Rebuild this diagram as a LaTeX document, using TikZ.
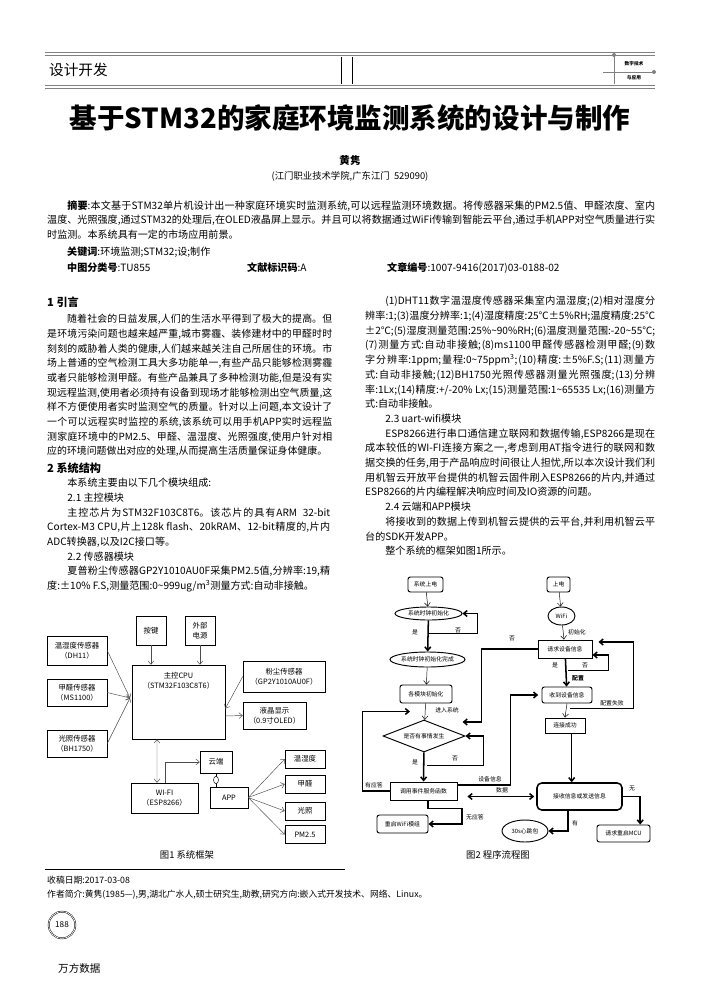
\documentclass[tikz,border=0pt]{standalone}
\usepackage{fontspec}
\setmainfont{Noto Sans CJK SC}
\usepackage{tikz}
\usetikzlibrary{arrows.meta,positioning,shapes.geometric,calc}
\XeTeXlinebreaklocale "zh"
\XeTeXlinebreakskip=0pt plus 1.5pt
\emergencystretch=1em

\newcommand{\bodyfont}{\fontsize{8.6}{12.55}\selectfont}
\newcommand{\figfont}{\fontsize{6.3}{8.5}\selectfont}
\newcommand{\flowfont}{\fontsize{5}{6}\selectfont}

\tikzset{
	wh/.style 2 args = {minimum width=#1*0.03cm, minimum height=#2*0.03cm, inner sep=0pt},
	blk/.style = {draw, thin, align=center, font=\figfont},
	fbox/.style = {draw, thick, align=center, font=\flowfont},
	rbox/.style = {fbox, rounded corners=2pt},
	oval/.style = {fbox, ellipse},
	lbl/.style = {font=\flowfont, inner sep=1pt},
	thk/.style = {line width=1.3pt},
	para/.style = {anchor=north west, align=justify, inner sep=0pt, font=\bodyfont}
}

\begin{document}
\begin{tikzpicture}[x=0.03cm, y=-0.03cm, >={Straight Barb[length=3pt,width=5pt]}]
	\useasboundingbox (0,0) rectangle (700,991);
	
	% header
	\draw[gray, line width=0.8pt] (45,52) -- (655,52);
	\draw[gray, line width=0.4pt] (45,55) -- (655,55);
	\draw[gray, line width=0.4pt] (45,85) -- (655,85);
	\draw[gray, line width=0.8pt] (45,88) -- (655,88);
	\draw (341,57) -- (341,84) (352,57) -- (352,84);
	\node[anchor=west, font=\fontsize{12.5}{14}\selectfont] (sec) at (45,70) {设计开发};
	\draw[gray] (614,55) -- (614,84) (603,72) -- (652,72);
	\fill[gray] (614,55) circle (2) (654,72) circle (2);
	\node[font=\fontsize{4}{5}\selectfont\bfseries, inner sep=0pt] (jn1) at (634,64) {数字技术};
	\node[font=\fontsize{4}{5}\selectfont\bfseries, inner sep=0pt] (jn2) at (634,78) {与应用};
	
	% title block
	\node[font=\fontsize{23.5}{26}\selectfont\bfseries] (title) at (350,118) {基于STM32的家庭环境监测系统的设计与制作};
	\node[font=\fontsize{9}{10}\selectfont\bfseries] (auth) at (350,161) {黄隽};
	\node[font=\fontsize{8}{10}\selectfont] (aff) at (350,176) {(江门职业技术学院,广东江门\ \ 529090)};
	\node[para, text width=18.24cm, font=\fontsize{8.6}{12.75}\selectfont] (abs) at (47,200)
		{\hspace*{2em}\textbf{摘要}:本文基于STM32单片机设计出一种家庭环境实时监测系统,可以远程监测环境数据。将传感器采集的PM2.5值、甲醛浓度、室内温度、光照强度,通过STM32的处理后,在OLED液晶屏上显示。并且可以将数据通过WiFi传输到智能云平台,通过手机APP对空气质量进行实时监测。本系统具有一定的市场应用前景。};
	\node[anchor=west, font=\fontsize{8.6}{10}\selectfont, inner sep=0pt] (kw) at (67,252) {\textbf{关键词}:环境监测;STM32;设;制作};
	\node[anchor=west, font=\fontsize{8.6}{10}\selectfont, inner sep=0pt] (clc) at (67,268) {\textbf{中图分类号}:TU855};
	\node[anchor=west, font=\fontsize{8.6}{10}\selectfont, inner sep=0pt] (doc) at (247,268) {\textbf{文献标识码}:A};
	\node[anchor=west, font=\fontsize{8.6}{10}\selectfont, inner sep=0pt] (art) at (387,268) {\textbf{文章编号}:1007-9416(2017)03-0188-02};
	
	% left column
	\node[anchor=west, font=\fontsize{9.5}{11}\selectfont\bfseries, inner sep=0pt] (h1) at (47,302) {1 引言};
	\node[para, text width=8.55cm, font=\fontsize{8.45}{12.55}\selectfont] (p1) at (47,314)
		{\hspace*{2em}随着社会的日益发展,人们的生活水平得到了极大的提高。但是环境污染问题也越来越严重,城市雾霾、装修建材中的甲醛时时刻刻的威胁着人类的健康,人们越来越关注自己所居住的环境。市场上普通的空气检测工具大多功能单一,有些产品只能够检测雾霾或者只能够检测甲醛。有些产品兼具了多种检测功能,但是没有实现远程监测,使用者必须持有设备到现场才能够检测出空气质量,这样不方便使用者实时监测空气的质量。针对以上问题,本文设计了一个可以远程实时监控的系统,该系统可以用手机APP实时远程监测家庭环境中的PM2.5、甲醛、温湿度、光照强度,使用户针对相应的环境问题做出对应的处理,从而提高生活质量保证身体健康。};
	\node[anchor=west, font=\fontsize{9.5}{11}\selectfont\bfseries, inner sep=0pt] (h2) at (47,468) {2 系统结构};
	\node[para, text width=8.49cm] (p2) at (47,478)
		{\hspace*{2em}本系统主要由以下几个模块组成:\par
		\hspace*{2em}2.1 主控模块\par
		\hspace*{2em}主控芯片为STM32F103C8T6。该芯片的具有ARM\ \ 32-bit Cortex-M3 CPU,片上128k flash、20kRAM、12-bit精度的,片内ADC转换器,以及I2C接口等。\par
		\hspace*{2em}2.2 传感器模块\par
		\hspace*{2em}夏普粉尘传感器GP2Y1010AU0F采集PM2.5值,分辨率:19,精度:±10\% F.S,测量范围:0\textasciitilde999ug/m\textsuperscript{3}测量方式:自动非接触。};
	
	% right column
	\node[para, text width=8.7cm] (p3) at (365,296)
		{\hspace*{2em}(1)DHT11数字温湿度传感器采集室内温湿度;(2)相对湿度分辨率:1;(3)温度分辨率:1;(4)湿度精度:25℃±5\%RH;温度精度:25℃±2℃;(5)湿度测量范围:25\%\textasciitilde90\%RH;(6)温度测量范围:-20\textasciitilde55℃;(7)测量方式:自动非接触;(8)ms1100甲醛传感器检测甲醛;(9)数字分辨率:1ppm;量程:0\textasciitilde75ppm\textsuperscript{3};(10)精度:±5\%F.S;(11)测量方式:自动非接触;(12)BH1750光照传感器测量光照强度;(13)分辨率:1Lx;(14)精度:+/-20\% Lx;(15)测量范围:1\textasciitilde65535 Lx;(16)测量方式:自动非接触。\par
		\hspace*{2em}2.3 uart-wifi模块\par
		\hspace*{2em}ESP8266进行串口通信建立联网和数据传输,ESP8266是现在成本较低的WI-FI连接方案之一,考虑到用AT指令进行的联网和数据交换的任务,用于产品响应时间很让人担忧,所以本次设计我们利用机智云开放平台提供的机智云固件刷入ESP8266的片内,并通过ESP8266的片内编程解决响应时间及IO资源的问题。\par
		\hspace*{2em}2.4 云端和APP模块\par
		\hspace*{2em}将接收到的数据上传到机智云提供的云平台,并利用机智云平台的SDK开发APP。\par
		\hspace*{2em}整个系统的框架如图1所示。};
	
	% figure 1
	\node[blk, wh={30}{29}] (key) at (151,630.5) {按键};
	\node[blk, wh={30}{29}] (pwr) at (200,630.5) {外部\\电源};
	\node[blk, wh={60}{29}] (th) at (77,650.5) {温湿度传感器\\（DH11）};
	\node[blk, wh={60}{27}] (hcho) at (77,692.5) {甲醛传感器\\（MS1100）};
	\node[blk, wh={60}{27}] (lux) at (77,743.5) {光照传感器\\（BH1750）};
	\node[blk, wh={93}{74}] (cpu) at (178.5,702) {};
	\node[font=\figfont, align=center, below=0.1cm of cpu.north] (cpul) {主控CPU\\（STM32F103C8T6）};
	\node[blk, wh={82}{31}] (dust) at (284,676.5) {粉尘传感器\\（GP2Y1010AU0F）};
	\node[blk, wh={63}{27}] (lcd) at (274.5,715.5) {液晶显示\\（0.9寸OLED）};
	\node[blk, wh={32}{22}] (cloud) at (216,762) {云端};
	\node[blk, wh={67}{30}] (wifi) at (164.5,798) {WI-FI\\（ESP8266）};
	\node[blk, wh={38}{21}] (app) at (229,797.5) {APP};
	\node[blk, wh={40}{18}] (o1) at (305,759) {温湿度};
	\node[blk, wh={40}{18}] (o2) at (305,784) {甲醛};
	\node[blk, wh={40}{18}] (o3) at (305,811) {光照};
	\node[blk, wh={40}{18}] (o4) at (305,834.5) {PM2.5};
	\coordinate (hub) at (130,698);
	\node[font=\fontsize{8}{9}\selectfont] (cap1) at (187,855) {图1 系统框架};
	
	\draw[->, gray!60!black] (th.east) -- (hub);
	\draw[->, gray!60!black] (hcho.east) -- (hub);
	\draw[->, gray!60!black] (lux.east) -- (hub);
	\draw[->, gray!60!black] (key.south) -- (key.south |- cpu.north);
	\draw[->, gray!60!black] (pwr.south) -- (pwr.south |- cpu.north);
	\draw[->, gray!60!black] (dust.west) -- ([yshift=-0.2cm]cpu.east);
	\draw[->, gray!60!black] ([yshift=-0.42cm]cpu.east) -- (lcd.west);
	\draw[<->, gray!60!black] ([xshift=-0.645cm]cpu.south) -- ([xshift=-0.225cm]wifi.north);
	\draw[->, gray!60!black] ([xshift=0.03cm]wifi.north) |- (cloud.west);
	\draw (cloud.south) -- node[draw, ellipse, minimum width=0.15cm, minimum height=0.22cm, inner sep=0pt, fill=white] (lnk) {} (cloud.south |- app.north);
	\foreach \o in {o1,o2,o3,o4}
		\draw[->, gray!60!black] (app.east) -- (\o.west);
	
	\draw (45,869) -- (345,869);
	
	% figure 2
	\node[rbox, wh={35}{15}] (s1) at (425.5,584.5) {系统上电};
	\node[oval, wh={67}{13}] (s2) at (428.5,613.5) {系统时钟初始化};
	\node[oval, wh={75}{15}] (s3) at (427.5,659.5) {系统时钟初始化完成};
	\node[rbox, wh={52}{18}] (s4) at (426,694) {各模块初始化};
	\node[fbox, diamond, aspect=2.56, wh={82}{32}] (s5) at (424,736) {是否有事情发生};
	\node[fbox, wh={67}{18}] (s6) at (423.5,791) {调用事件服务函数};
	\node[rbox, wh={51}{18}] (s7) at (402.5,824) {重启WiFi模组};
	\node[rbox, wh={23}{15}] (r1) at (558.5,584.5) {上电};
	\node[oval, wh={27}{18}] (r2) at (561.5,616) {WiFi};
	\node[fbox, wh={54}{18}] (r3) at (565,649) {请求设备信息};
	\node[rbox, wh={50}{16}] (r4) at (567,695) {收到设备信息};
	\node[fbox, wh={40}{15}] (r5) at (565,725.5) {连接成功};
	\node[rbox, line width=1.3pt, rounded corners=4pt, wh={85}{27}] (r6) at (579.5,796.5) {接收信息或发送信息};
	\node[rbox, wh={53}{17}] (r7) at (623.5,833.5) {请求重启MCU};
	\node[oval, wh={46}{22}] (r8) at (525,831) {30s心跳包};
	
	\draw[->] (s1) -- (s2);
	\draw[->] (s3) -- (s4);
	\draw[->] (s4) -- (s5);
	\draw[->] (r1) -- (r2);
	\draw[->] (r2) -- (r3);
	\draw[->] (r4.south) -- ([xshift=-0.06cm]r4.south |- r5.north);
	\draw[thk,->] (s2) -- (s3);
	\draw[thk,->] (s5) -- (s6);
	\draw[thk,->] (r3) -- (r4);
	\draw[thk,->] ([yshift=-0.39cm]s2.south) -| ([xshift=0.45cm]s2.east) -- (s2.east);
	\draw[thk,->] ([xshift=0.09cm,yshift=-0.39cm]s5.south) -| ([xshift=0.54cm]s5.east) -- (s5.east);
	\draw[thk,->] (s6.west) -- ++(-27,0) |- ([xshift=-0.45cm]$(s4.south)!0.5!(s5.north)$);
	\draw[thk,->] (r3.west) -- ++(-56,0) -- ++(0,73) -- ++(-19,0);
	\draw[thk,->] ([yshift=0.18cm]s6.east) -- ++(53,0) |- ([xshift=-0.1cm]r4.west);
	\draw[thk,<->] ([xshift=-0.06cm]r6.west) -- ([xshift=0.3cm]r6.west -| s6.east);
	\draw[thk,->] ([xshift=0.135cm]s6.south) |- ++(34,8) |- (s7.east);
	\draw[thk,->] ([xshift=0.09cm,yshift=-0.36cm]r3.south) -| ([xshift=0.48cm,yshift=-0.18cm]r3.east) -- ([yshift=-0.18cm]r3.east);
	\draw[thk,->] ([xshift=0.09cm,yshift=-0.15cm]r4.south) -| ([xshift=1.23cm,yshift=0.21cm]r3.east) -- ([xshift=0.18cm,yshift=0.21cm]r3.east);
	\draw[thk,->] ([xshift=0.2cm]r5.south) -- ([xshift=0.2cm]r5.south |- r6.north);
	\draw[thk,->] (r6.east) -| ([xshift=0.5cm]r7.north);
	\draw[thk,->] ([xshift=-0.345cm]r6.south) |- (r8.east);
	
	\node[lbl] (y1) at (415,632) {是};
	\node[lbl] (n1) at (458,630) {否};
	\node[lbl] (in) at (447,710) {进入系统};
	\node[lbl] (y2) at (415,762) {是};
	\node[lbl] (n2) at (455,758) {否};
	\node[lbl] (ack) at (374,785) {有应答};
	\node[lbl] (noack) at (475,817) {无应答};
	\node[lbl] (dev) at (490,779) {设备信息};
	\node[lbl] (dat) at (502,790) {数据};
	\node[lbl] (n3) at (512,638) {否};
	\node[lbl] (ini) at (577,632) {初始化};
	\node[lbl] (y3) at (555,665) {是};
	\node[lbl] (n4) at (585,665) {否};
	\node[lbl, font=\flowfont\bfseries] (cfg) at (578,678) {配置};
	\node[lbl] (fail) at (612,703) {配置失败};
	\node[lbl] (none) at (632,788) {无};
	\node[lbl] (has) at (575,823) {有};
	\node[font=\fontsize{8}{9}\selectfont] (cap2) at (498,855) {图2\ 程序流程图};
	
	% footer
	\node[anchor=west, font=\fontsize{7.5}{9}\selectfont, inner sep=0pt] (rcv) at (47,880) {收稿日期:2017-03-08};
	\node[anchor=west, font=\fontsize{7.5}{9}\selectfont, inner sep=0pt] (bio) at (47,895) {作者简介:黄隽(1985—),男,湖北广水人,硕士研究生,助教,研究方向:嵌入式开发技术、网络、Linux。};
	\node[draw, circle, double, minimum size=0.8cm, inner sep=0pt, font=\fontsize{7}{8}\selectfont] (pg) at (62,925) {188};
	\node[anchor=west, font=\fontsize{9}{10}\selectfont, inner sep=0pt] (wf) at (58,968) {万方数据};
\end{tikzpicture}
\end{document}
